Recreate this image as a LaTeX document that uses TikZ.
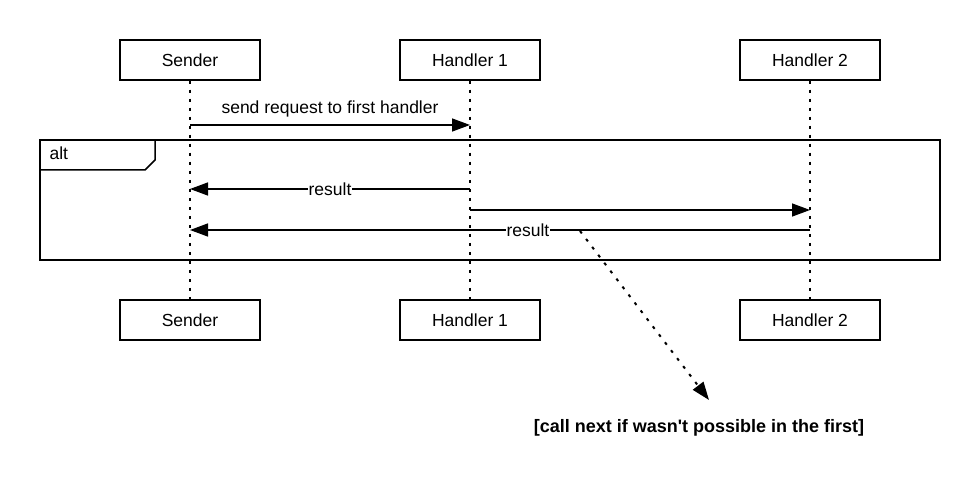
\documentclass[tikz,border=0pt]{standalone}
\usepackage{fontspec}
\setmainfont{Liberation Sans}[Ligatures=TeXOff]
\usetikzlibrary{arrows.meta}
\begin{document}
\begin{tikzpicture}[x=1pt,y=-1pt,
  every node/.style={font=\fontsize{17.5}{20}\selectfont},
  actor/.style={draw,line width=1.5pt,minimum width=140pt,minimum height=40pt,inner sep=0pt},
  life/.style={line width=1.8pt,dash pattern=on 3pt off 6pt},
  msg/.style={line width=1.5pt,-{Triangle[length=18pt,width=13pt]}},
  lbl/.style={fill=white,inner sep=1pt}]
\useasboundingbox (0,0) rectangle (980,500);
\node[actor] (s1) at (190,60) {Sender};
\node[actor] (h1) at (470,60) {Handler 1};
\node[actor] (h2) at (810,60) {Handler 2};
\node[actor] (s2) at (190,320) {Sender};
\node[actor] (h1b) at (470,320) {Handler 1};
\node[actor] (h2b) at (810,320) {Handler 2};
\draw[life] (s1.south) -- (s2.north);
\draw[life] (h1.south) -- (h1b.north);
\draw[life] (h2.south) -- (h2b.north);
% alt frame
\draw[line width=1.5pt] (40,140) rectangle (940,260);
\draw[line width=1.5pt] (40,170) -- (145,170) -- (155,160) -- (155,140);
\node[anchor=west] (alt) at (46,153) {alt};
% messages
\coordinate (a1) at (190,125);
\coordinate (b1) at (470,125);
\draw[msg] (a1) -- (b1) node[midway,above=4pt] (m1) {send request to first handler};
\coordinate (a2) at (470,189);
\coordinate (b2) at (190,189);
\draw[msg] (a2) -- (b2) node[pos=0.5,lbl] (r1) {result};
\coordinate (a3) at (470,210);
\coordinate (b3) at (810,210);
\draw[msg] (a3) -- (b3);
\coordinate (a4) at (810,230);
\coordinate (b4) at (190,230);
\draw[msg] (a4) -- (b4) node[pos=0.455,lbl] (r2) {result};
% note
\coordinate (n0) at (580,231);
\node[font=\fontsize{18}{21}\selectfont\bfseries] (note) at (699,428) {[call next if wasn't possible in the first]};
\coordinate (n1) at (709,400);
\draw[line width=2pt,dash pattern=on 3pt off 7pt,-{Triangle[length=18pt,width=13pt]}] (n0) -- (n1);
\end{tikzpicture}
\end{document}
